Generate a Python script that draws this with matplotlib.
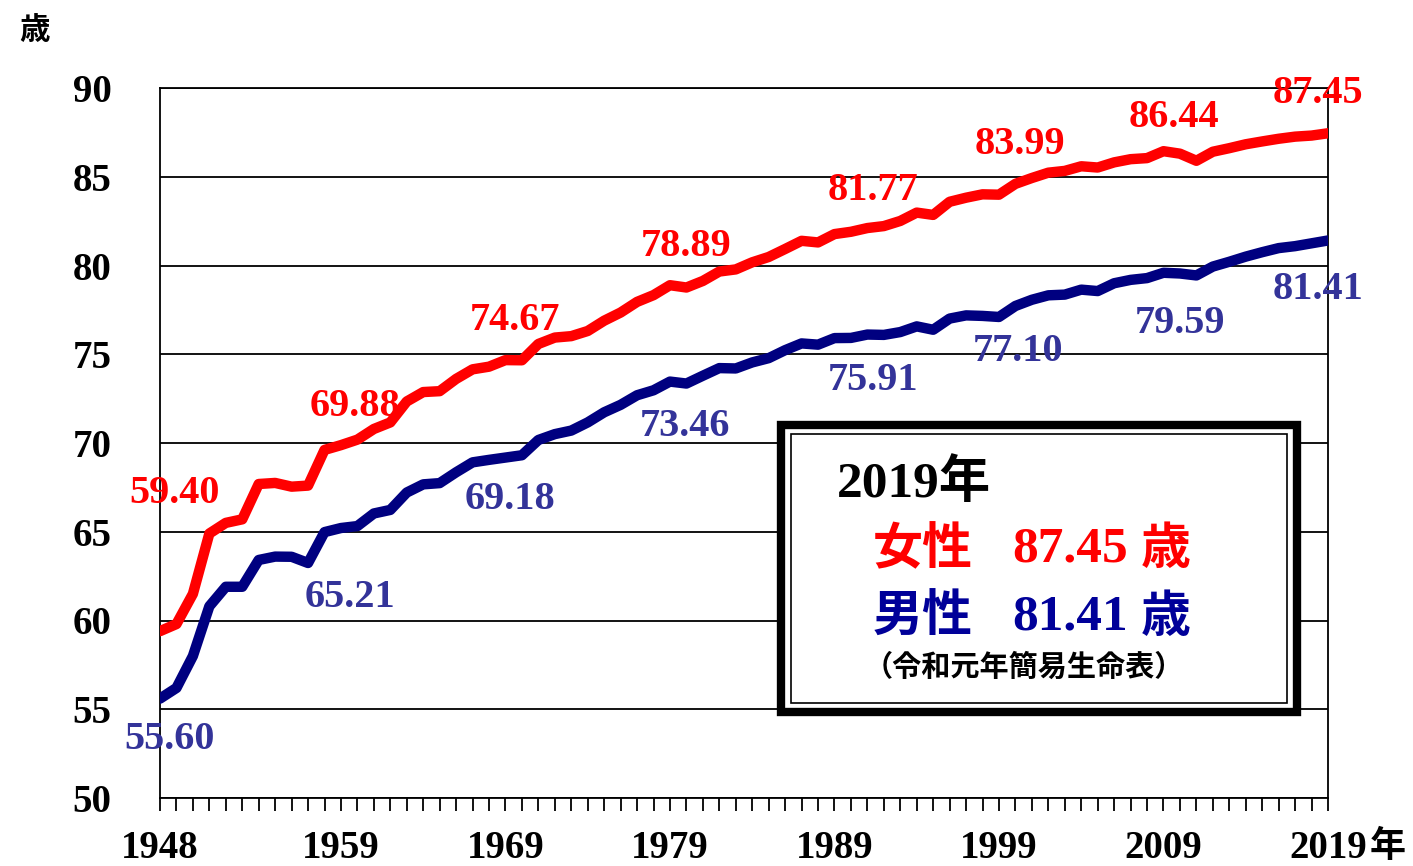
import matplotlib
matplotlib.use("Agg")
import matplotlib.pyplot as plt
from matplotlib.patches import Rectangle

# 平均寿命の推移 (1948-2019)
years = list(range(1948, 2020))

female = [59.40, 59.80, 61.50, 64.90, 65.50, 65.70, 67.69, 67.75, 67.54, 67.60,
          69.61, 69.88, 70.19, 70.79, 71.16, 72.34, 72.87, 72.92, 73.61, 74.15,
          74.30, 74.67, 74.66, 75.58, 75.94, 76.02, 76.31, 76.89, 77.35, 77.95,
          78.33, 78.89, 78.76, 79.13, 79.66, 79.78, 80.18, 80.48, 80.93, 81.39,
          81.30, 81.77, 81.90, 82.11, 82.22, 82.51, 82.98, 82.85, 83.59, 83.82,
          84.01, 83.99, 84.60, 84.93, 85.23, 85.33, 85.59, 85.52, 85.81, 85.99,
          86.05, 86.44, 86.30, 85.90, 86.41, 86.61, 86.83, 86.99, 87.14, 87.26,
          87.32, 87.45]

male = [55.60, 56.20, 58.00, 60.80, 61.90, 61.90, 63.41, 63.60, 63.59, 63.24,
        64.98, 65.21, 65.32, 66.03, 66.23, 67.21, 67.67, 67.74, 68.35, 68.91,
        69.05, 69.18, 69.31, 70.17, 70.50, 70.70, 71.16, 71.73, 72.15, 72.69,
        72.97, 73.46, 73.35, 73.79, 74.22, 74.20, 74.54, 74.78, 75.23, 75.61,
        75.54, 75.91, 75.92, 76.11, 76.09, 76.25, 76.57, 76.38, 77.01, 77.19,
        77.16, 77.10, 77.72, 78.07, 78.32, 78.36, 78.64, 78.56, 79.00, 79.19,
        79.29, 79.59, 79.55, 79.44, 79.94, 80.21, 80.50, 80.75, 80.98, 81.09,
        81.25, 81.41]

label_years = [1948, 1959, 1969, 1979, 1989, 1999, 2009, 2019]
yticks = [50, 55, 60, 65, 70, 75, 80, 85, 90]

RED = "#ff0000"
NAVY = "#000080"
NAVY_TXT = "#333399"
SERIF = ["Liberation Serif", "Noto Sans CJK JP", "DejaVu Sans"]
GOTHIC = ["Noto Sans CJK JP", "DejaVu Sans"]

# pixel offsets of the value labels from their points
f_off = [(15, 138), (14, 39), (10, 40), (16, 39), (39, 44), (21, 50), (10, 34), (-10, 40)]
m_off = [(10, -41), (9, -69), (5, -42), (15, -45), (39, -42), (19, -35), (17, -51), (-10, -49)]

fig = plt.figure(figsize=(14.13, 8.66), dpi=100)
W, H = 1413, 866
ax = fig.add_axes([160 / W, 1 - 798 / H, 1168 / W, 710 / H])

ax.plot(years, female, color=RED, lw=7.5, solid_joinstyle="round", solid_capstyle="round", zorder=3)
ax.plot(years, male, color=NAVY, lw=7.5, solid_joinstyle="round", solid_capstyle="round", zorder=3)

ax.set_xlim(1948, 2019)
ax.set_ylim(50, 90)
ax.set_yticks(yticks)
ax.set_yticklabels([str(t) for t in yticks], fontsize=28, fontweight="bold", family=SERIF)
ax.tick_params(axis="y", length=0, pad=35)
ax.set_xticks(years)
ax.set_xticklabels([str(y) if y in label_years else "" for y in years],
                   fontsize=28, fontweight="bold", family=SERIF)
ax.tick_params(axis="x", direction="out", length=9, width=1.3, pad=14, color="black")
ax.grid(axis="y", color="black", lw=1.3, zorder=1)
for s in ax.spines.values():
    s.set_linewidth(1.3)
    s.set_color("black")

for i, y in enumerate(label_years):
    k = years.index(y)
    ax.annotate(f"{female[k]:.2f}", (y, female[k]), xytext=f_off[i], textcoords="offset pixels",
                ha="center", va="center", fontsize=29, fontweight="bold", family=SERIF,
                color=RED, zorder=4, annotation_clip=False)
    ax.annotate(f"{male[k]:.2f}", (y, male[k]), xytext=m_off[i], textcoords="offset pixels",
                ha="center", va="center", fontsize=29, fontweight="bold", family=SERIF,
                color=NAVY_TXT, zorder=4, annotation_clip=False)

# axis unit labels
fig.text(35 / W, 1 - 30 / H, "歳", fontsize=22, fontweight="bold", family=GOTHIC,
         ha="center", va="center")
fig.text(1388 / W, 1 - 846 / H, "年", fontsize=26, fontweight="bold", family=GOTHIC,
         ha="center", va="center")

# summary box for 2019
outer = Rectangle((781 / W, 1 - 712 / H), 516 / W, 287 / H, transform=fig.transFigure,
                  facecolor="white", edgecolor="black", lw=6, zorder=5)
inner = Rectangle((791 / W, 1 - 703 / H), 496 / W, 269 / H, transform=fig.transFigure,
                  facecolor="none", edgecolor="black", lw=1.2, zorder=6)
fig.add_artist(outer)
fig.add_artist(inner)

fig.text(837 / W, 1 - 484 / H, "2019年", fontsize=37, fontweight="bold", family=SERIF,
         ha="left", va="center", zorder=7)
k = years.index(2019)
for row_y, name, val, col in [(550, "女性", female[k], RED), (617, "男性", male[k], "#000099")]:
    fig.text(873 / W, 1 - row_y / H, name, fontsize=36, fontweight="bold", family=GOTHIC,
             color=col, ha="left", va="center", zorder=7)
    fig.text(1012 / W, 1 - row_y / H, f"{val:.2f}", fontsize=37, fontweight="bold", family=SERIF,
             color=col, ha="left", va="center", zorder=7)
    fig.text(1141 / W, 1 - row_y / H, "歳", fontsize=36, fontweight="bold", family=GOTHIC,
             color=col, ha="left", va="center", zorder=7)
fig.text(864 / W, 1 - 667 / H, "（令和元年簡易生命表）", fontsize=21, fontweight="bold", family=GOTHIC,
         ha="left", va="center", zorder=7)

fig.savefig("out.png", dpi=100)
